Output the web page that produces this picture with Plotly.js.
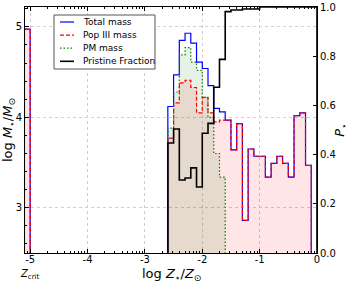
<!DOCTYPE html>
<html><head><meta charset="utf-8">
<script src="https://cdn.plot.ly/plotly-3.0.1.min.js"></script>
<style>html,body{margin:0;padding:0;background:#fff}#chart{width:349px;height:283px}</style>
</head><body><div id="chart"></div>
<script>
// ---- data ----
const binWidth = 0.1;
const zBinLeft = [-2.6,-2.5,-2.4,-2.3,-2.2,-2.1,-2.0,-1.9,-1.8,-1.7,-1.6,-1.5,-1.4,-1.3,-1.2,-1.1,-1.0,-0.9,-0.8,-0.7,-0.6,-0.5,-0.4,-0.3,-0.2,-0.1];
const totalMass  = [4.12,4.47,4.85,4.93,4.82,4.61,4.54,4.35,4.10,4.06,3.97,3.64,3.93,2.86,3.65,3.57,3.57,3.34,3.49,3.57,3.49,3.34,4.02,4.05,3.47];
const popIIIMass = [3.77,4.16,4.38,4.41,4.33,4.05,4.22,4.05,3.95,3.97,3.97,3.64,3.93,2.86,3.65,3.57,3.57,3.34,3.49,3.57,3.49,3.34,4.02,4.05,3.47];
const pmMass     = [3.88,4.28,4.69,4.77,4.61,4.52,4.22,4.00,3.60,3.34];
const pristineFraction = [0.447,0.504,0.297,0.305,0.346,0.268,0.487,0.527,0.674,0.787,0.981,0.988,0.988,0.992,0.992,0.992,1.0,1.0,1.0,1.0,1.0,1.0,1.0,1.0,1.0,1.0];
const zcritBinLeft = [-5.1];
const zcritTotalMass = [4.975];
const zcritPopIIIMass = [4.975];
const seriesNames = ['Total mass','Pop III mass','PM mass','Pristine Fraction'];
const xTickVals = [-5,-4,-3,-2,-1,0];
const xTickText = ["-5","-4","-3","-2","-1","0"];
const yTickVals = [3,4,5];
const y2TickVals = [0,0.2,0.4,0.6,0.8,1.0];
const baseline = 0;

function stepXY(lefts, vals, base) {
  const x = [], y = [];
  const n = vals.length;
  x.push(lefts[0]); y.push(base);
  for (let i = 0; i < n; i++) { x.push(lefts[i]); y.push(vals[i]); }
  const right = +(lefts[n-1] + binWidth).toFixed(6);
  x.push(right); y.push(vals[n-1]);
  x.push(right); y.push(base);
  return {x, y};
}

// minor ticks with log-like spacing (axis decoration only)
const xMinor = [];
for (let n = -6; n < 0; n++) for (let k = 2; k <= 9; k++) {
  const v = n + Math.log10(k);
  if (v > -5.09 && v < 0) xMinor.push(v);
}

const FONT = 'DejaVu Sans, sans-serif';
const dashRed = '4px,2px';
const dotGreen = '1.5px,2px';
const styles = [
  {color:'#0000ff', width:1.2, dash:'solid'},
  {color:'#ff0000', width:1.2, dash:dashRed},
  {color:'#008000', width:1.2, dash:dotGreen},
  {color:'#000000', width:1.6, dash:'solid'}
];

const sTot = stepXY(zBinLeft, totalMass, baseline);
const sPop = stepXY(zBinLeft, popIIIMass, baseline);
const sPM  = stepXY(zBinLeft, pmMass, baseline);
const sP   = stepXY(zBinLeft, pristineFraction, baseline);
const zTot = stepXY(zcritBinLeft, zcritTotalMass, baseline);
const zPop = stepXY(zcritBinLeft, zcritPopIIIMass, baseline);

const fillBase = {type:'scatter', mode:'lines', line:{width:0, shape:'hv'}, fill:'tozeroy', showlegend:false, hoverinfo:'skip'};
function lineTrace(s, st, name, extra) {
  return Object.assign({type:'scatter', mode:'lines', name:name, x:s.x, y:s.y, showlegend:false,
    line:{color:st.color, width:st.width, shape:'hv', dash:st.dash}}, extra || {});
}
const traces = [
  Object.assign({}, fillBase, {x:zPop.x, y:zPop.y, fillcolor:'rgba(255,0,0,0.1)'}),
  Object.assign({}, fillBase, {x:sPop.x, y:sPop.y, fillcolor:'rgba(255,0,0,0.1)'}),
  Object.assign({}, fillBase, {x:sPM.x, y:sPM.y, fillcolor:'rgba(0,128,0,0.1)'}),
  lineTrace(zTot, styles[0], seriesNames[0]),
  lineTrace(zPop, styles[1], seriesNames[1]),
  lineTrace(sTot, styles[0], seriesNames[0]),
  lineTrace(sPop, styles[1], seriesNames[1]),
  lineTrace(sPM,  styles[2], seriesNames[2]),
  lineTrace(sP,   styles[3], seriesNames[3], {yaxis:'y2'})
];

// compact legend box (matplotlib-like), in paper coordinates
const plotL = 25, plotT = 7, plotW = 292, plotH = 246;
const px2x = p => (p - plotL) / plotW;
const px2y = p => 1 - (p - plotT) / plotH;
const shapes = [{type:'rect', xref:'paper', yref:'paper', x0:px2x(54), x1:px2x(155), y0:px2y(69), y1:px2y(15),
                 fillcolor:'#ffffff', line:{color:'#555555', width:1}, layer:'above'}];
const annotations = [];
seriesNames.forEach((nm, i) => {
  const yy = px2y(22 + i * 13.1);
  shapes.push({type:'line', xref:'paper', yref:'paper', x0:px2x(60), x1:px2x(74), y0:yy, y1:yy,
               line:{color:styles[i].color, width:styles[i].width, dash:styles[i].dash}, layer:'above'});
  annotations.push({text:nm, xref:'paper', yref:'paper', x:px2x(81), y:yy, xanchor:'left', yanchor:'middle',
                    showarrow:false, font:{family:FONT, size:9, color:'#000'}});
});
// x-axis title and Z_crit marker label below the axis
annotations.push({text:'log <i>Z</i><sub>⋆</sub>/<i>Z</i><sub>⊙</sub>', xref:'paper', yref:'paper', x:0.5, y:px2y(274.5), xanchor:'center', yanchor:'middle',
                  showarrow:false, font:{family:FONT, size:13}});
annotations.push({text:'<i>Z</i><sub>crit</sub>', xref:'x', yref:'paper', x:-5, y:px2y(274), xanchor:'center', yanchor:'middle',
                  showarrow:false, font:{family:FONT, size:10}});

const layout = {
  width:349, height:283,
  margin:{l:25, r:32, t:7, b:30, pad:0},
  paper_bgcolor:'#ffffff', plot_bgcolor:'#ffffff',
  font:{family:FONT, size:10, color:'#000'},
  showlegend:false,
  xaxis:{range:[-5.09,0], tickmode:'array', tickvals:xTickVals, ticktext:xTickText, ticks:'inside', ticklen:4, tickcolor:'#000',
         ticklabelstandoff:-3,
         showline:true, linecolor:'#000', linewidth:1, mirror:'ticks', zeroline:false,
         showgrid:true, gridcolor:'#cfcfcf', griddash:'dot', gridwidth:1,
         minor:{tickmode:'array', tickvals:xMinor, ticks:'inside', ticklen:2, tickcolor:'#000', showgrid:false},
         tickfont:{family:FONT, size:10}},
  yaxis:{range:[2.5,5.22], tickmode:'array', tickvals:yTickVals, ticktext:['3','4','5'], ticks:'inside', ticklen:4, tickcolor:'#000',
         showline:true, linecolor:'#000', linewidth:1, zeroline:false,
         showgrid:true, gridcolor:'#cfcfcf', griddash:'dot', gridwidth:1,
         minor:{dtick:0.2, ticks:'inside', ticklen:2, tickcolor:'#000', showgrid:false},
         tickfont:{family:FONT, size:10},
         title:{text:'log <i>M</i><sub>⋆</sub>/<i>M</i><sub>⊙</sub>', font:{family:FONT, size:13}, standoff:1}},
  yaxis2:{overlaying:'y', side:'right', range:[0,1], tickmode:'array', tickvals:y2TickVals, tickformat:'.1f', ticks:'inside', ticklen:4, tickcolor:'#000',
          showline:true, linecolor:'#000', linewidth:1, zeroline:false, showgrid:false,
          tickfont:{family:FONT, size:10},
          title:{text:'<i>P</i><sub>⋆</sub>', font:{family:FONT, size:13}, standoff:4}},
  shapes:shapes,
  annotations:annotations
};

Plotly.newPlot('chart', traces, layout, {displayModeBar:false, staticPlot:true});
</script>
</body></html>
